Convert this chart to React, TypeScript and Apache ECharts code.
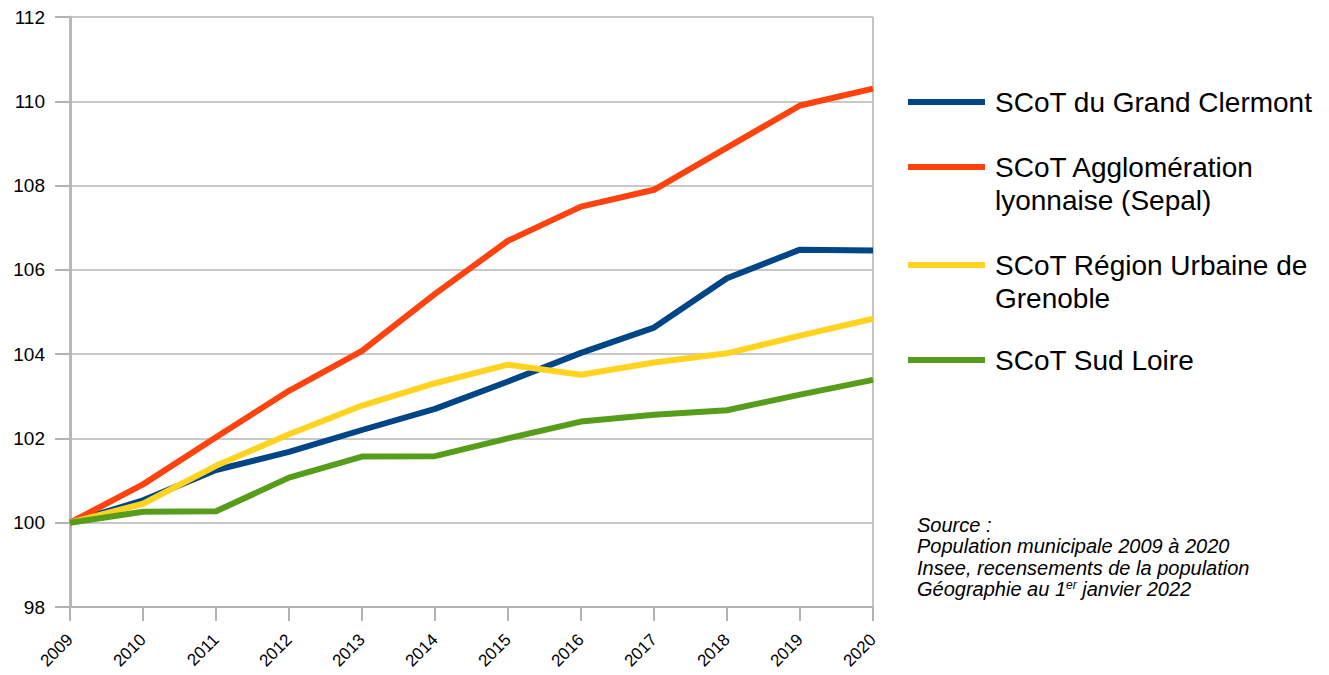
import React, { useEffect, useRef } from "react";
import * as echarts from "echarts";

const years = ["2009", "2010", "2011", "2012", "2013", "2014", "2015", "2016", "2017", "2018", "2019", "2020"];
const clermont = [100, 100.53, 101.25, 101.68, 102.2, 102.7, 103.35, 104.03, 104.63, 105.8, 106.48, 106.46];
const sepal = [100, 100.91, 102.03, 103.13, 104.08, 105.43, 106.69, 107.5, 107.9, 108.9, 109.9, 110.3];
const grenoble = [100, 100.45, 101.35, 102.1, 102.78, 103.31, 103.75, 103.51, 103.8, 104.02, 104.44, 104.84];
const sudLoire = [100, 100.26, 100.27, 101.07, 101.57, 101.58, 102.0, 102.4, 102.56, 102.67, 103.04, 103.39];

const seriesNames = [
  "SCoT du Grand Clermont",
  "SCoT Agglomération lyonnaise (Sepal)",
  "SCoT Région Urbaine de Grenoble",
  "SCoT Sud Loire",
];
const legendLabels = [
  "SCoT du Grand Clermont",
  "SCoT Agglomération\nlyonnaise (Sepal)",
  "SCoT Région Urbaine de\nGrenoble",
  "SCoT Sud Loire",
];
const colors = ["#004586", "#ff420e", "#ffd320", "#579d1c"];
const sourceLines = [
  "Source :",
  "Population municipale 2009 à 2020",
  "Insee, recensements de la population",
  "Géographie au 1{sup|er} janvier 2022",
];

const FONT = "'Liberation Sans', Arial, sans-serif";

export default function App() {
  const ref = useRef<HTMLDivElement>(null);
  useEffect(() => {
    if (!ref.current) return;
    const chart = echarts.init(ref.current, undefined, { renderer: "svg" });
    const allData = [clermont, sepal, grenoble, sudLoire];
    const legendY = [102, 167, 265, 360];
    const lh = 33;
    const graphics: any[] = [];
    legendLabels.forEach((lab, i) => {
      graphics.push({
        type: "line",
        shape: { x1: 908, y1: legendY[i], x2: 985, y2: legendY[i] },
        style: { stroke: colors[i], lineWidth: 6 },
      });
      graphics.push({
        type: "text",
        x: 995,
        y: legendY[i] - lh / 2,
        style: {
          text: lab,
          font: `28px ${FONT}`,
          fill: "#000",
          lineHeight: lh,
          verticalAlign: "top",
          align: "left",
        },
      });
    });
    graphics.push({
      type: "text",
      x: 917,
      y: 514,
      style: {
        text: sourceLines.join("\n"),
        fontFamily: FONT,
        fontSize: 20,
        fontStyle: "italic",
        fill: "#000",
        lineHeight: 21.5,
        verticalAlign: "top",
        rich: {
          sup: { fontSize: 12, fontStyle: "italic", fontFamily: FONT, verticalAlign: "top", padding: [0, 0, 8, 0], lineHeight: 21.5 },
        },
      },
    });
    const xLabelStyle = { color: "#000", fontFamily: FONT, fontSize: 17 };
    const yLabelStyle = { color: "#000", fontFamily: FONT, fontSize: 19 };
    chart.setOption({
      animation: false,
      backgroundColor: "#fff",
      textStyle: { fontFamily: FONT, fontSize: 19, color: "#000" },
      grid: { left: 70, right: 456, top: 17, bottom: 68, containLabel: false },
      xAxis: {
        type: "category",
        data: years,
        boundaryGap: false,
        axisLine: { show: true, lineStyle: { color: "#b3b3b3", width: 2 } },
        axisTick: { show: true, length: 14, alignWithLabel: true, lineStyle: { color: "#b3b3b3", width: 2 } },
        axisLabel: { rotate: 45, margin: 30, ...xLabelStyle, textStyle: xLabelStyle },
        splitLine: { show: true, interval: (idx: number) => idx === years.length - 1, lineStyle: { color: "#c4c4c4", width: 2 } },
      },
      yAxis: {
        type: "value",
        min: 98,
        max: 112,
        interval: 2,
        axisLine: { show: true, lineStyle: { color: "#b8b8b8", width: 3 } },
        axisTick: { show: true, length: 15, lineStyle: { color: "#b3b3b3", width: 2 } },
        axisLabel: { margin: 25, ...yLabelStyle, textStyle: yLabelStyle },
        splitLine: { show: true, lineStyle: { color: "#c8c8c8", width: 2 } },
      },
      series: seriesNames.map((n, i) => ({
        name: n,
        type: "line",
        data: allData[i],
        symbol: "none",
        lineStyle: { color: colors[i], width: 6, join: "round" },
        itemStyle: { color: colors[i] },
        z: 3,
      })),
      graphic: graphics,
    });
    return () => chart.dispose();
  }, []);
  return <div ref={ref} style={{ width: 1329, height: 675, position: "absolute", left: 0, top: 0 }} />;
}
